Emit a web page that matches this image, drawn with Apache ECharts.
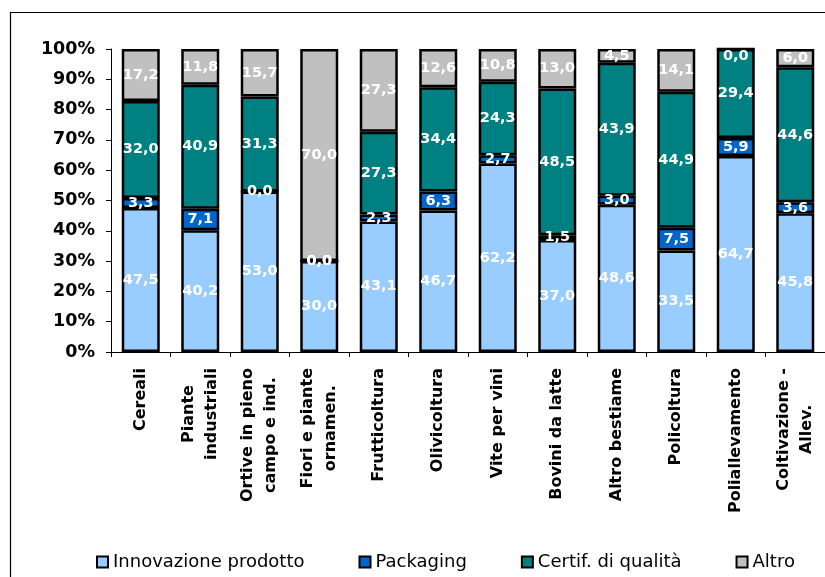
<!DOCTYPE html>
<html>
<head>
<meta charset="utf-8">
<script src="https://cdn.jsdelivr.net/npm/echarts@6/dist/echarts.min.js"></script>
<style>
html,body{margin:0;padding:0;background:#fff;}
#chart{width:825px;height:577px;}
</style>
</head>
<body>
<div id="chart"></div>
<script>
const categories = ["Cereali", "Piante\nindustriali", "Ortive in pieno\ncampo e ind.", "Fiori e piante\nornamen.", "Frutticoltura", "Olivicoltura", "Vite per vini", "Bovini da latte", "Altro bestiame", "Policoltura", "Poliallevamento", "Coltivazione -\nAllev."];
const seriesNames = ["Innovazione prodotto", "Packaging", "Certif. di qualità", "Altro"];
const innovazione = [47.5, 40.2, 53.0, 30.0, 43.1, 46.7, 62.2, 37.0, 48.6, 33.5, 64.7, 45.8];
const packaging = [3.3, 7.1, 0.0, 0.0, 2.3, 6.3, 2.7, 1.5, 3.0, 7.5, 5.9, 3.6];
const certif = [32.0, 40.9, 31.3, 0.0, 27.3, 34.4, 24.3, 48.5, 43.9, 44.9, 29.4, 44.6];
const altro = [17.2, 11.8, 15.7, 70.0, 27.3, 12.6, 10.8, 13.0, 4.5, 14.1, 0.0, 6.0];
const yTicks = [0, 10, 20, 30, 40, 50, 60, 70, 80, 90, 100];

const colors = ["#99CCFF", "#0066CC", "#008080", "#C0C0C0"];
const allData = [innovazione, packaging, certif, altro];

const chart = echarts.init(document.getElementById('chart'));
const series = allData.map((d, i) => ({
  name: seriesNames[i],
  type: 'bar',
  stack: 'tot',
  barWidth: 38,
  data: d,
  itemStyle: { color: colors[i], borderColor: '#000', borderWidth: 2.5 },
  label: {
    show: true,
    position: 'inside',
    color: '#fff',
    fontFamily: 'DejaVu Sans',
    fontWeight: 'bold',
    fontSize: 14.5,
    formatter: p => p.value.toFixed(1).replace('.', ',')
  },
  labelLayout: i === allData.length - 1 ? function (params) {
    if (Math.abs(params.rect.height) < 4) {
      return { dy: params.labelRect.height / 2 };
    }
    return {};
  } : undefined,
  emphasis: { disabled: true }
}));

chart.setOption({
  animation: false,
  backgroundColor: '#fff',
  graphic: [{
    type: 'rect',
    shape: { x: 10.5, y: 12.5, width: 900, height: 700 },
    style: { fill: 'none', stroke: '#000', lineWidth: 1.2 },
    silent: true
  }],
  grid: { left: 111, top: 49, width: 722, height: 303, containLabel: false },
  legend: {
    left: 91,
    top: 548,
    itemWidth: 11,
    itemHeight: 11,
    itemGap: 54,
    icon: 'rect',
    itemStyle: { borderColor: '#000', borderWidth: 2 },
    textStyle: { fontFamily: 'DejaVu Sans', fontSize: 18, color: '#000', padding: [0, 0, 0, 0] },
    data: seriesNames
  },
  xAxis: {
    type: 'category',
    data: categories,
    axisLine: { lineStyle: { color: '#000', width: 1 } },
    axisTick: { show: true, length: 5, lineStyle: { color: '#000' } },
    axisLabel: {
      rotate: 90,
      interval: 0,
      margin: 16,
      color: '#000',
      fontFamily: 'DejaVu Sans',
      fontWeight: 'bold',
      fontSize: 16,
      formatter: v => v.split('\n').map(s => '{c|' + s + '}').join('\n'),
      rich: {
        c: { align: 'center', fontFamily: 'DejaVu Sans', fontWeight: 'bold', fontSize: 16, color: '#000', lineHeight: 23 }
      }
    }
  },
  yAxis: {
    type: 'value',
    min: yTicks[0],
    max: yTicks[yTicks.length - 1],
    interval: yTicks[1] - yTicks[0],
    splitLine: { show: false },
    axisLine: { show: true, lineStyle: { color: '#000', width: 1 } },
    axisTick: { show: true, length: 5, lineStyle: { color: '#000' } },
    axisLabel: {
      margin: 16,
      color: '#000',
      fontFamily: 'DejaVu Sans',
      fontWeight: 'bold',
      fontSize: 17.5,
      formatter: '{value}%'
    }
  },
  series: series
});
</script>
</body>
</html>
